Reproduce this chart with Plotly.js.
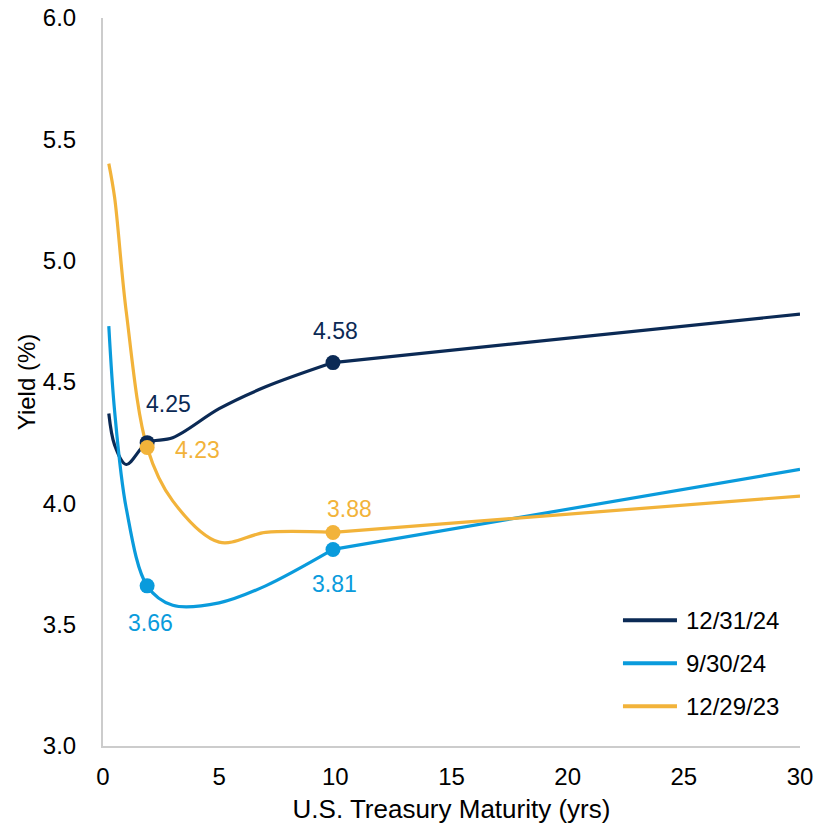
<!DOCTYPE html>
<html>
<head>
<meta charset="utf-8">
<script src="https://cdn.plot.ly/plotly-3.0.1.min.js"></script>
<style>
  html, body { margin: 0; padding: 0; background: #ffffff; }
  #chart { width: 817px; height: 829px; }
</style>
</head>
<body>
<div id="chart"></div>
<script>
// Maturities in years (3M, 6M, 1Y, 2Y, 3Y, 5Y, 7Y, 10Y, 30Y)
const maturities = [0.25, 0.5, 1, 1.9, 3, 5, 7, 9.9, 30];

const seriesNames = ["12/31/24", "9/30/24", "12/29/23"];
const yields_123124 = [4.37, 4.24, 4.16, 4.25, 4.27, 4.39, 4.48, 4.58, 4.78];
const yields_093024 = [4.73, 4.38, 3.98, 3.66, 3.58, 3.59, 3.66, 3.81, 4.14];
const yields_122923 = [5.40, 5.26, 4.79, 4.23, 4.01, 3.84, 3.88, 3.88, 4.03];

// indices of points that carry a marker + value label (2Y and 10Y)
const labeledIdx = [3, 7];

const colors = ["#0B2A55", "#0A9BDC", "#F2B33A"];
const allSeries = [yields_123124, yields_093024, yields_122923];

// label offsets in pixels (dx, dy up) per series per labeled point
const labelOffsets = [
  [[21, 39], [2, 32]],     // 12/31/24: 4.25, 4.58
  [[3, -37], [1, -35]],    // 9/30/24: 3.66, 3.81
  [[50, -2], [16, 23]]     // 12/29/23: 4.23, 3.88
];

const FONT = "Liberation Sans, Arial, sans-serif";
const splitIdx = 7; // smoothed up to 10Y, long segment to 30Y drawn nearly straight

const traces = [];
allSeries.forEach((ys, s) => {
  traces.push({
    x: maturities.slice(0, splitIdx + 1), y: ys.slice(0, splitIdx + 1),
    type: "scatter", mode: "lines", name: seriesNames[s],
    line: { color: colors[s], width: 3.2, shape: "spline", smoothing: 0.95 },
    showlegend: false, hoverinfo: "x+y"
  });
  traces.push({
    x: maturities.slice(splitIdx), y: ys.slice(splitIdx),
    type: "scatter", mode: "lines", name: seriesNames[s],
    line: { color: colors[s], width: 3.2 },
    showlegend: false, hoverinfo: "x+y"
  });
});
allSeries.forEach((ys, s) => {
  traces.push({
    x: labeledIdx.map(i => maturities[i]),
    y: labeledIdx.map(i => ys[i]),
    type: "scatter", mode: "markers",
    marker: { color: colors[s], size: 15 },
    showlegend: false, hoverinfo: "x+y"
  });
});

const annotations = [];
allSeries.forEach((ys, s) => {
  labeledIdx.forEach((i, k) => {
    annotations.push({
      x: maturities[i], y: ys[i], xref: "x", yref: "y",
      text: ys[i].toFixed(2), showarrow: false,
      xshift: labelOffsets[s][k][0], yshift: labelOffsets[s][k][1],
      xanchor: "center", yanchor: "middle",
      font: { family: FONT, size: 23, color: colors[s] }
    });
  });
});

// manual legend
const shapes = [];
const legendY = [0.1727, 0.1137, 0.0546];
seriesNames.forEach((nm, s) => {
  shapes.push({
    type: "line", xref: "paper", yref: "paper",
    x0: 0.746, x1: 0.8235, y0: legendY[s], y1: legendY[s],
    line: { color: colors[s], width: 4 }
  });
  annotations.push({
    x: 0.834, y: legendY[s], xref: "paper", yref: "paper",
    text: nm, showarrow: false, xanchor: "left", yanchor: "middle",
    font: { family: FONT, size: 24, color: "#000000" }
  });
});

const layout = {
  width: 817, height: 829,
  margin: { l: 103, r: 17, t: 17.5, b: 83.3, pad: 0 },
  paper_bgcolor: "#ffffff", plot_bgcolor: "#ffffff",
  showlegend: false,
  font: { family: FONT, size: 24, color: "#000000" },
  xaxis: {
    range: [0, 30], tickvals: [0, 5, 10, 15, 20, 25, 30],
    showgrid: false, zeroline: false,
    showline: true, linecolor: "#CCCCCC", linewidth: 2,
    ticks: "outside", ticklen: 8, tickcolor: "rgba(0,0,0,0)",
    tickfont: { family: FONT, size: 24, color: "#000000" },
    title: { text: "U.S. Treasury Maturity (yrs)", standoff: 11,
             font: { family: FONT, size: 26, color: "#000000" } },
    automargin: false, fixedrange: true
  },
  yaxis: {
    range: [3, 6], tickvals: [3, 3.5, 4, 4.5, 5, 5.5, 6],
    tickformat: ".1f",
    showgrid: false, zeroline: false,
    showline: true, linecolor: "#CCCCCC", linewidth: 2,
    ticks: "outside", ticklen: 20, tickcolor: "rgba(0,0,0,0)",
    tickfont: { family: FONT, size: 24, color: "#000000" },
    title: { text: "Yield (%)", standoff: 0,
             font: { family: FONT, size: 24, color: "#000000" } },
    automargin: false, fixedrange: true
  },
  annotations: annotations,
  shapes: shapes
};

Plotly.newPlot("chart", traces, layout, { staticPlot: true, displayModeBar: false });
</script>
</body>
</html>
